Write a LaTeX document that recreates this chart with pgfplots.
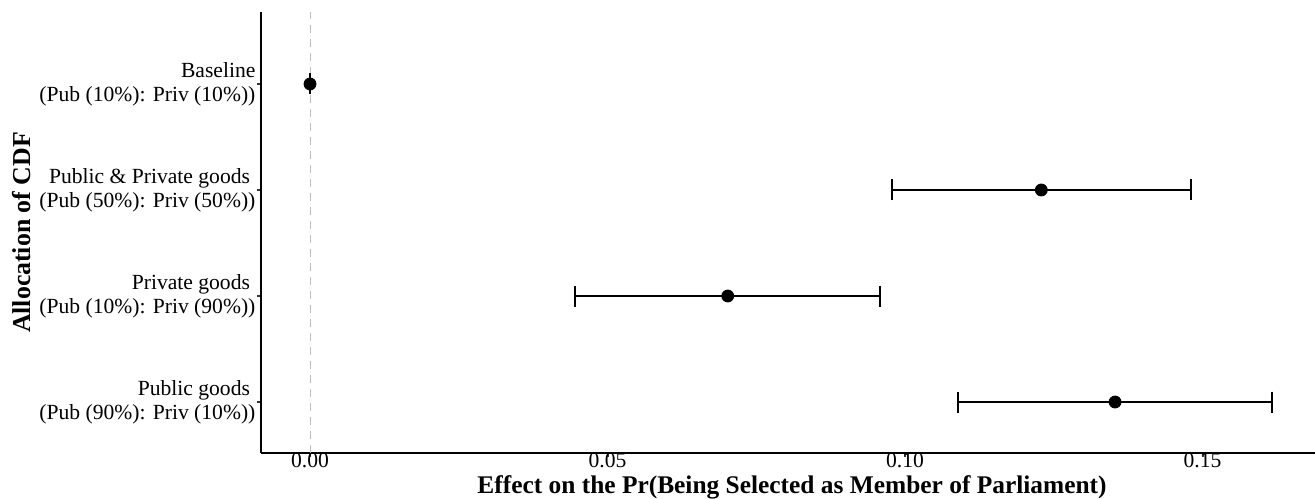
\documentclass[border=0pt]{standalone}
\usepackage{pgfplots}
\pgfplotsset{compat=1.18}
\usepackage{fontspec}
\setmainfont{Liberation Serif}
\definecolor{refgrey}{HTML}{BEBEBE}
\definecolor{tickgrey}{HTML}{333333}
\begin{document}
\begin{tikzpicture}
\fontsize{10.8}{12}\selectfont
\begin{axis}[
  name=ax,
  scale only axis,
  width=527pt, height=220.5pt,
  xmin=-0.00824, xmax=0.1689,
  ymin=0.519, ymax=4.679,
  axis x line*=bottom, axis y line*=left,
  axis line style={-, line width=1pt, black},
  xtick={0,0.05,0.1,0.15},
  ytick={1,2,3,4},
  yticklabels={{Public goods\hspace*{0.25em}\\(Pub (90\%): Priv (10\%))},
               {Private goods\hspace*{0.25em}\\(Pub (10\%): Priv (90\%))},
               {Public \& Private goods\hspace*{0.25em}\\(Pub (50\%): Priv (50\%))},
               {Baseline\\(Pub (10\%): Priv (10\%))}},
  yticklabel style={align=right, font=\fontsize{10.8}{12}\selectfont, xshift=3pt},
  xticklabel style={font=\fontsize{10.8}{12}\selectfont, yshift=3pt, inner sep=1pt, text depth=0pt},
  /pgf/number format/.cd, fixed, fixed zerofill, precision=2, assume math mode=true,
  /pgfplots/.cd,
  tick align=outside,
  major tick length=2pt,
  tick style={tickgrey, line width=1pt},
  xlabel={\textbf{Effect on the Pr(Being Selected as Member of Parliament)}},
  ylabel={\textbf{Allocation of CDF}},
  xlabel style={at={(axis description cs:0.5,0)}, anchor=center, yshift=-17pt, xshift=2pt, inner sep=0.5pt, font=\fontsize{12.7}{14}\selectfont},
  ylabel style={at={(axis description cs:0,0.5)}, anchor=center, yshift=119.5pt, font=\fontsize{12.9}{14}\selectfont},
  clip=false,
]
\addplot[refgrey, line width=0.5pt, dash pattern=on 4pt off 3pt] coordinates {(0,0.519) (0,4.679)};
\addplot[black, only marks, mark=*, mark size=3pt,
  error bars/.cd, x dir=both, x explicit,
  error bar style={line width=1pt, black},
  error mark options={black, line width=1pt, mark size=5.25pt, rotate=90}]
  table[x=x, y=y, x error=e] {
  x y e
  0.0000 4 0.00001
  0.1229 3 0.0251
  0.0702 2 0.0256
  0.1353 1 0.0264
};
\end{axis}
\pgfresetboundingbox
\useasboundingbox ([xshift=-130.5pt,yshift=-22.5pt]ax.south west) rectangle ([yshift=6pt]ax.north east);
\end{tikzpicture}
\end{document}
